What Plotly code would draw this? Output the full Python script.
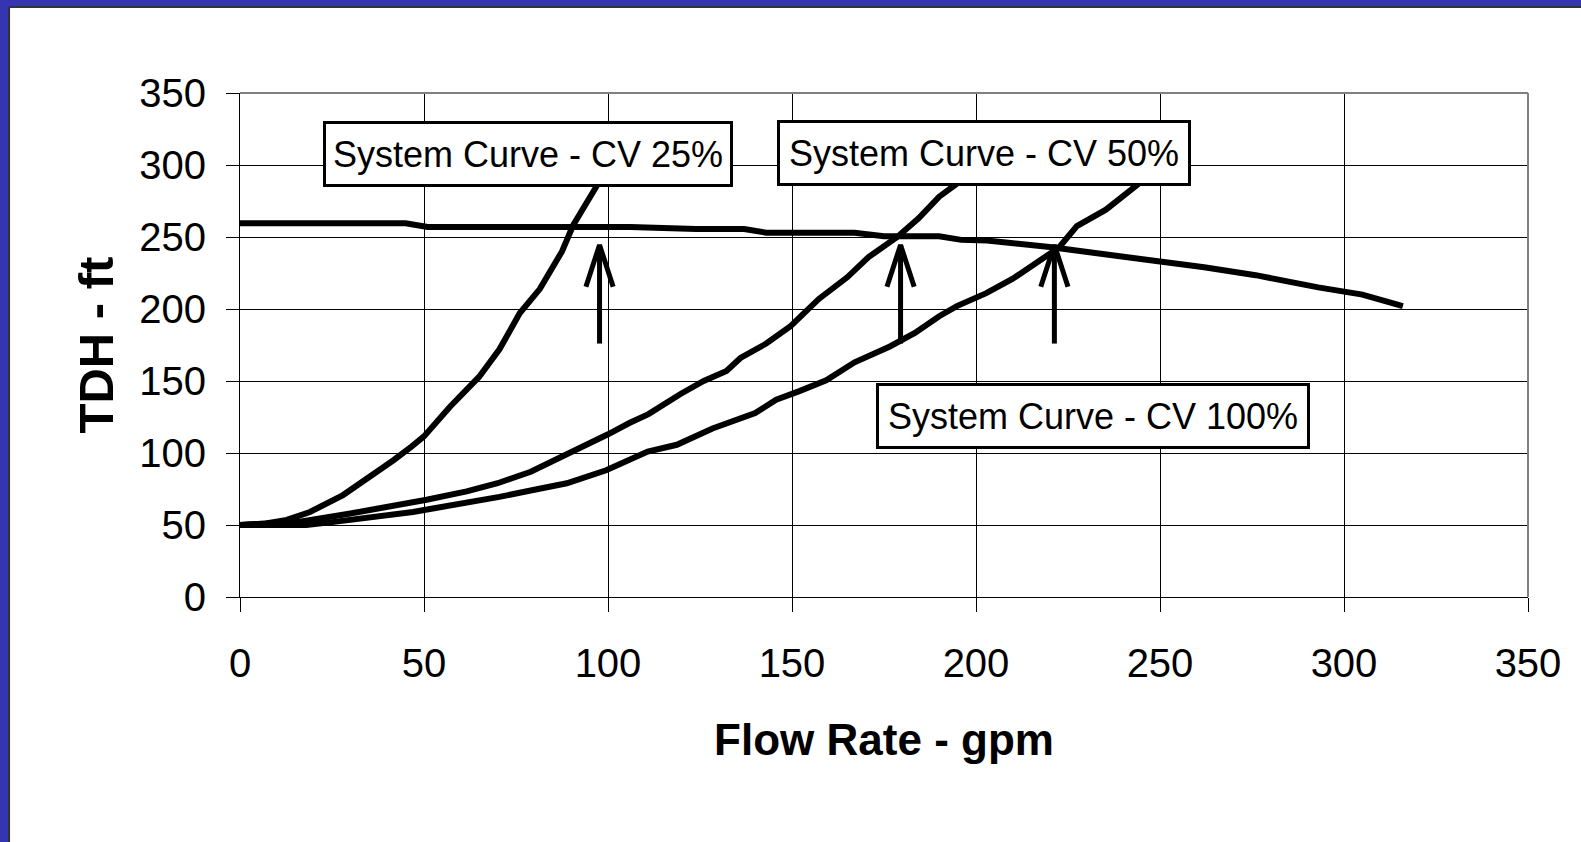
import plotly.graph_objects as go

# Pump curve (TDH vs flow)
pump_q = [0, 45, 51, 106, 124, 137, 143, 167, 175, 190, 196, 203, 220, 233, 250, 262, 276, 293, 305, 316]
pump_h = [259.5, 259.5, 257, 257, 255.5, 255.5, 253, 253, 250.5, 250.5, 248, 247.5, 243, 239, 233, 229, 223.5, 215, 210, 202]

# System curves at three control-valve openings
cv25_q = [0, 7, 12.7, 19, 28, 36, 41.7, 46.6, 50, 57, 65, 70.5, 76, 81.5, 87.5, 90.5, 94, 97.2, 101]
cv25_h = [50, 51, 53.5, 59, 70.8, 84.5, 95, 104.5, 111.5, 132, 153, 172, 197, 214, 240, 258, 273, 286.6, 300]

cv50_q = [0, 10, 16.3, 30, 43.5, 50.7, 61.6, 70, 79, 87.3, 94, 100, 105.8, 111, 119.7, 126, 132.2,
          136, 143, 149.6, 157.3, 165, 170.8, 178.6, 184.4, 190, 194.8, 199]
cv50_h = [50, 51, 52.3, 58, 64, 67.5, 73.3, 79, 87, 97, 105.7, 113, 120.8, 127, 141, 150, 157,
          166, 176, 188, 207, 222, 236, 250, 263, 278, 287, 298]

cv100_q = [0, 18, 25, 30, 39, 47, 52, 60.6, 70.5, 80, 88.8, 99.5, 105.8, 110.8, 118.7, 128.4, 140,
           145.7, 152, 159.3, 167, 176.6, 183.4, 190, 194.8, 202.8, 210, 217.6, 222.5, 227.4, 235.3, 244, 248]
cv100_h = [50, 50, 52, 53.5, 55.8, 59, 61.3, 65, 69.5, 74.5, 79, 88, 95, 101, 105.7, 117, 127.7,
           137, 143, 150.5, 163, 174, 183.4, 195, 202, 211, 221, 234, 242.6, 257.6, 269, 286.6, 298]

# Curve labels
label_text = ["System Curve - CV 25%", "System Curve - CV 50%", "System Curve - CV 100%"]
label_q = [78.3, 202.2, 231.9]
label_h = [307.6, 308.3, 126.0]

# Operating-point arrows
arrow_q = [97.7, 179.5, 221.3]
arrow_tail = 176
arrow_tip = 244.5

FONT = "Liberation Sans, Arial, sans-serif"
HEAD_DQ = 3.7   # half-width of arrow head, gpm
HEAD_DH = 29    # length of arrow head, ft
SLIDE_BLUE = "#3535b2"

fig = go.Figure()

for q, h in [(pump_q, pump_h), (cv25_q, cv25_h), (cv50_q, cv50_h), (cv100_q, cv100_h)]:
    fig.add_trace(go.Scatter(x=q, y=h, mode="lines",
                             line=dict(color="black", width=6), hoverinfo="skip"))

# Arrows: shaft plus open V head
ax, ay = [], []
for q in arrow_q:
    ax += [q, q, None, q - HEAD_DQ, q, q + HEAD_DQ, None]
    ay += [arrow_tail, arrow_tip, None, arrow_tip - HEAD_DH, arrow_tip, arrow_tip - HEAD_DH, None]
fig.add_trace(go.Scatter(x=ax, y=ay, mode="lines",
                         line=dict(color="black", width=5), hoverinfo="skip"))

box_w = [404, 408, 428]
for t, q, h, w in zip(label_text, label_q, label_h, box_w):
    fig.add_annotation(x=q, y=h, text=t, showarrow=False, xanchor="center", yanchor="middle",
                       font=dict(family=FONT, size=36, color="black"),
                       bgcolor="white", bordercolor="black", borderwidth=3, borderpad=0,
                       width=w, height=60)

# Blue slide frame along the top and left edges, with a dark panel edge
PANEL_X0 = -0.1793
PANEL_Y1 = 1.1706
fig.add_shape(type="rect", xref="paper", yref="paper", x0=-0.5, x1=1.5, y0=PANEL_Y1, y1=1.5,
              fillcolor=SLIDE_BLUE, line=dict(width=0), layer="below")
fig.add_shape(type="rect", xref="paper", yref="paper", x0=-0.5, x1=PANEL_X0, y0=-1.0, y1=1.5,
              fillcolor=SLIDE_BLUE, line=dict(width=0), layer="below")
fig.add_shape(type="line", xref="paper", yref="paper", x0=PANEL_X0, x1=1.5, y0=PANEL_Y1, y1=PANEL_Y1,
              line=dict(color="#333333", width=2), layer="below")
fig.add_shape(type="line", xref="paper", yref="paper", x0=PANEL_X0, x1=PANEL_X0, y0=-1.0, y1=PANEL_Y1,
              line=dict(color="#333333", width=2), layer="below")
# Plain white panel continues past the right-hand edge
fig.add_shape(type="rect", xref="paper", yref="paper", x0=1.026, x1=1.5, y0=-1.0, y1=PANEL_Y1 - 0.002,
              fillcolor="white", line=dict(width=0), layer="above")

# Grey frame on the top and right edges of the plot area
fig.add_shape(type="line", xref="paper", yref="paper", x0=0, x1=1, y0=1, y1=1,
              line=dict(color="#808080", width=2), layer="above")
fig.add_shape(type="line", xref="paper", yref="paper", x0=1, x1=1, y0=0, y1=1,
              line=dict(color="#808080", width=2), layer="above")

axis_common = dict(
    range=[0, 350], tick0=0, dtick=50,
    showgrid=True, gridcolor="black", gridwidth=1,
    showline=True, linecolor="black", linewidth=1,
    zeroline=False, ticks="outside", tickcolor="black", tickwidth=1,
    tickfont=dict(family=FONT, size=40, color="black"),
)

fig.update_xaxes(**axis_common, ticklen=14, ticklabelstandoff=17,
                 title=dict(text="<b>Flow Rate - gpm</b>", standoff=40,
                            font=dict(family=FONT, size=44, color="black")))
fig.update_yaxes(**axis_common, ticklen=13, ticklabelstandoff=12,
                 title=dict(text="<b>TDH - ft</b>", standoff=10,
                            font=dict(family=FONT, size=49, color="black")))

fig.update_layout(
    width=1581, height=842,
    margin=dict(l=240, r=53, t=93, b=245),
    paper_bgcolor="white", plot_bgcolor="white",
    showlegend=False,
)

fig.write_html("out.html", config={"displayModeBar": False})
